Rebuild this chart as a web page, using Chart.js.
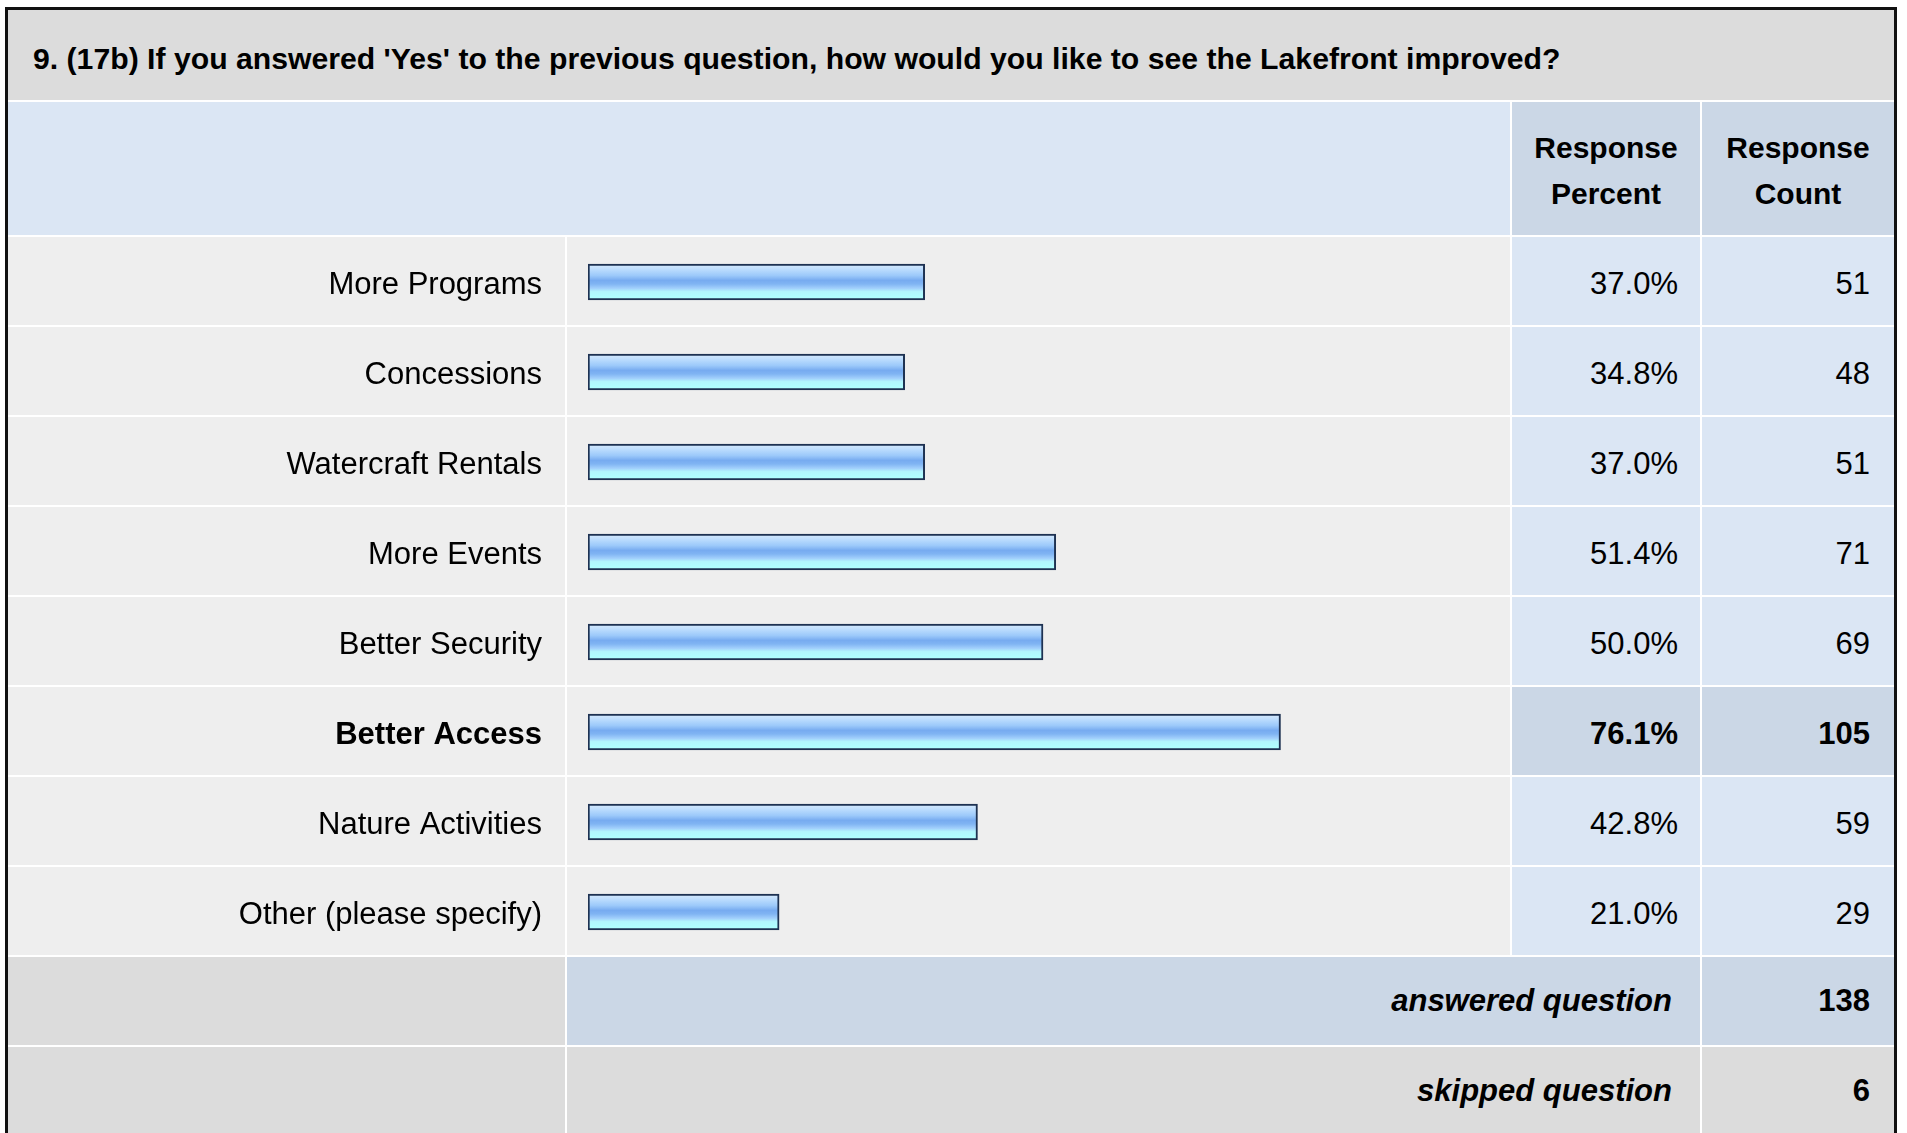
<!DOCTYPE html>
<html>
<head>
<meta charset="utf-8">
<script src="https://cdn.jsdelivr.net/npm/chart.js@4.4.1/dist/chart.umd.min.js"></script>
<style>
  html, body { margin: 0; padding: 0; background: #fff; overflow: hidden; }
  body { width: 1907px; height: 1133px; position: relative; font-family: "Liberation Sans", Arial, sans-serif; color: #000; }
  #wrap { position: absolute; left: 5px; top: 7px; width: 1886px; height: 1200px; border: 3px solid #111; background: #fff; }
  #grid { display: grid; grid-template-columns: 557px 943px 188px 192px; grid-template-rows: 90px 133px repeat(10, 88px); gap: 2px; }
  .c { display: flex; align-items: center; font-size: 31px; box-sizing: border-box; padding-top: 5px; }
  .r { justify-content: flex-end; }
  .title { grid-column: 1 / span 4; background: #dcdcdc; font-weight: bold; font-size: 30.2px; padding-left: 25px; padding-top: 7px; }
  .head { background: #cbd7e6; font-weight: bold; font-size: 30px; justify-content: center; text-align: center; line-height: 46px; padding-top: 4px; }
  #box { position: absolute; left: 0; top: 227px; width: 1502px; height: 720px; }
</style>
</head>
<body>
<div id="wrap">
  <div id="grid"></div>
  <div id="box"><canvas id="bars"></canvas></div>
</div>
<script>
const title = "9. (17b) If you answered 'Yes' to the previous question, how would you like to see the Lakefront improved?";
const labels = ['More Programs', 'Concessions', 'Watercraft Rentals', 'More Events', 'Better Security', 'Better Access', 'Nature Activities', 'Other (please specify)'];
const percents = [37.0, 34.8, 37.0, 51.4, 50.0, 76.1, 42.8, 21.0];
const counts = [51, 48, 51, 71, 69, 105, 59, 29];
const answered = 138;
const skipped = 6;

const topIdx = counts.indexOf(Math.max(...counts));
const LIGHT = '#dbe6f4', DARK = '#cbd7e6', GREY = '#dcdcdc', BODY = '#eeeeee';

// table cells around the chart
const grid = document.getElementById('grid');
function cell(text, cls, bg, style) {
  const d = document.createElement('div');
  d.className = 'c ' + (cls || '');
  d.style.background = bg;
  if (style) Object.assign(d.style, style);
  d.innerHTML = text;
  grid.appendChild(d);
}
cell(title, 'title', GREY);
cell('', '', LIGHT, { gridColumn: '1 / span 2' });
cell('Response<br>Percent', 'head', DARK);
cell('Response<br>Count', 'head', DARK);
labels.forEach((l, i) => {
  const hi = i === topIdx;
  const bg = hi ? DARK : LIGHT;
  const st = { paddingRight: '22px', fontWeight: hi ? 'bold' : 'normal' };
  cell('', '', BODY);
  cell('', '', BODY);
  cell(percents[i].toFixed(1) + '%', 'r', bg, st);
  cell(String(counts[i]), 'r', bg, Object.assign({}, st, { paddingRight: '24px' }));
});
const foot = { fontWeight: 'bold', paddingTop: '0px', paddingRight: '24px' };
const footLbl = { gridColumn: '2 / span 2', fontWeight: 'bold', fontStyle: 'italic', paddingTop: '0px', paddingRight: '28px' };
cell('', '', GREY);
cell('answered question', 'r', DARK, footLbl);
cell(String(answered), 'r', DARK, foot);
cell('', '', GREY);
cell('skipped question', 'r', GREY, footLbl);
cell(String(skipped), 'r', GREY, foot);

// glossy bar fill, one gradient per bar
const BAR = 36;
function barFill(ctx) {
  const chart = ctx.chart;
  const y = chart.scales.y;
  if (ctx.type !== 'data' || !y) return '#8cbcf4';
  const c = y.getPixelForValue(ctx.dataIndex);
  if (!isFinite(c)) return '#8cbcf4';
  const g = chart.ctx.createLinearGradient(0, c - BAR / 2 + 2, 0, c + BAR / 2 - 2);
  g.addColorStop(0, '#cfe6fd');
  g.addColorStop(0.15, '#b4d8fd');
  g.addColorStop(0.3, '#9cc9fa');
  g.addColorStop(0.45, '#77abf0');
  g.addColorStop(0.56, '#80b4f3');
  g.addColorStop(0.7, '#a2d0fc');
  g.addColorStop(0.8, '#b2f6fd');
  g.addColorStop(1, '#b0ffff');
  return g;
}

new Chart(document.getElementById('bars'), {
  type: 'bar',
  data: {
    labels: labels,
    datasets: [{
      data: percents,
      backgroundColor: barFill,
      borderColor: '#1e3252',
      borderWidth: 2,
      borderSkipped: false,
      barThickness: BAR
    }]
  },
  options: {
    indexAxis: 'y',
    responsive: true,
    maintainAspectRatio: false,
    animation: false,
    layout: { padding: { top: 0, bottom: 0, left: 0, right: 12 } },
    plugins: { legend: { display: false }, tooltip: { enabled: false } },
    scales: {
      x: { display: false, min: 0, max: 100 },
      y: {
        grid: { display: false, drawTicks: false },
        border: { display: false },
        afterFit: (s) => { s.width = 580; s.paddingTop = 0; s.paddingBottom = 0; },
        ticks: {
          padding: 46,
          labelOffset: 3,
          color: '#000',
          font: (c) => ({ family: '"Liberation Sans", Arial, sans-serif', size: 31, weight: c.index === topIdx ? 'bold' : 'normal' })
        }
      }
    }
  }
});
</script>
</body>
</html>
